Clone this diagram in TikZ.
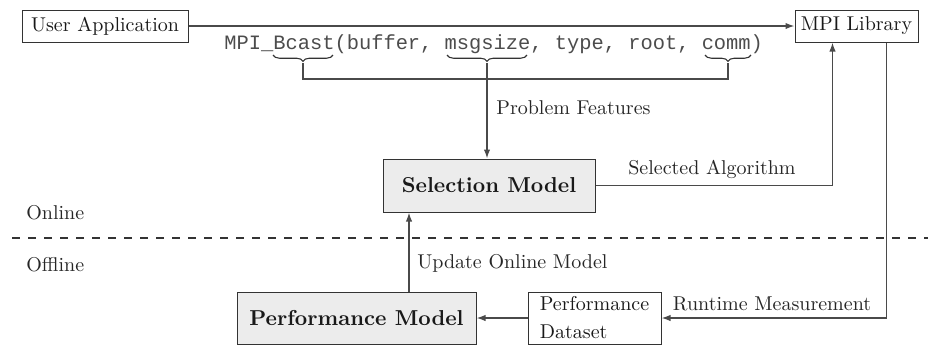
\documentclass[tikz,border=0pt]{standalone}
\usepackage{fontspec}
\setmonofont{Liberation Mono}
\usetikzlibrary{arrows.meta,decorations.pathreplacing}
\definecolor{boxfill}{HTML}{ECECEC}
\definecolor{linegray}{HTML}{4A4A4A}
\begin{document}
\begin{tikzpicture}[x=0.5pt,y=-0.5pt,
  box/.style={draw=black!80, line width=0.5pt, inner sep=0pt, font=\fontsize{10}{12}\selectfont, text=black!90},
  modelbox/.style={box, fill=boxfill, font=\fontsize{10.8}{13}\selectfont\bfseries},
  conn/.style={draw=linegray, line width=0.7pt},
  arr/.style={conn, -{Latex[length=4.5pt,width=3.2pt]}},
  lbl/.style={inner sep=0pt, font=\fontsize{10}{12}\selectfont, text=black!85},
  brace/.style={draw=black!80, line width=0.55pt, decorate,
    decoration={brace, mirror, amplitude=3.2pt}}]
  \useasboundingbox (0,0) rectangle (928,345);

  % boxes
  \node[box, minimum width=83pt, minimum height=16pt] (ua) at (105,26) {User Application};
  \node[box, minimum width=61.5pt, minimum height=16pt] (mpi) at (856.5,26) {MPI Library};
  \node[modelbox, minimum width=106pt, minimum height=26.5pt] (sel) at (489,185.5) {Selection Model};
  \node[modelbox, minimum width=119.5pt, minimum height=26pt] (pm) at (356.5,318) {Performance Model};
  \node[box, minimum width=66.5pt, minimum height=26pt, align=left,
        font=\fontsize{10}{14}\selectfont] (pd) at (594.5,318) {Performance\\Dataset};

  % call signature with the braces under the relevant arguments
  \node[inner sep=0pt, anchor=west, font=\fontsize{10.2}{12}\selectfont\ttfamily, text=black!70]
    (call) at (224,44) {MPI\_Bcast(buffer, msgsize, type, root, comm)};
  \draw[brace] (273,55) -- (333,55);
  \draw[brace] (447,55) -- (527,55);
  \draw[brace] (705,55) -- (751,55);
  \coordinate (b1) at (303,63);
  \coordinate (b2) at (487,63);
  \coordinate (b3) at (728,63);
  \coordinate (j1) at (303,79);
  \coordinate (j3) at (728,79);

  % connectors
  \draw[arr] (ua.east) -- (mpi.west);
  \draw[conn] (b1) -- (j1) -- (j3) -- (b3);
  \draw[arr] (b2) -- (b2 |- sel.north);
  \draw[arr] (sel.east) -| ([xshift=19pt]mpi.south west);
  \draw[arr] ([xshift=-16pt]mpi.south east) |- (pd.east);
  \draw[arr] (pd.west) -- (pm.east);
  \draw[arr] ([xshift=26.25pt]pm.north) -- ([xshift=26.25pt]pm.north |- sel.south);

  % online / offline divider
  \draw[draw=black!80, line width=1pt, dash pattern=on 4pt off 4pt] (12,238) -- (928,238);
  \node[lbl, anchor=west] (on) at (26,213) {Online};
  \node[lbl, anchor=west] (off) at (26,265) {Offline};

  % connector labels
  \node[lbl, anchor=west] (pf) at (496,108) {Problem Features};
  \node[lbl] (sa) at (712,169) {Selected Algorithm};
  \node[lbl] (rm) at (772,304) {Runtime Measurement};
  \node[lbl, anchor=west] (uom) at (417,263) {Update Online Model};
\end{tikzpicture}
\end{document}
